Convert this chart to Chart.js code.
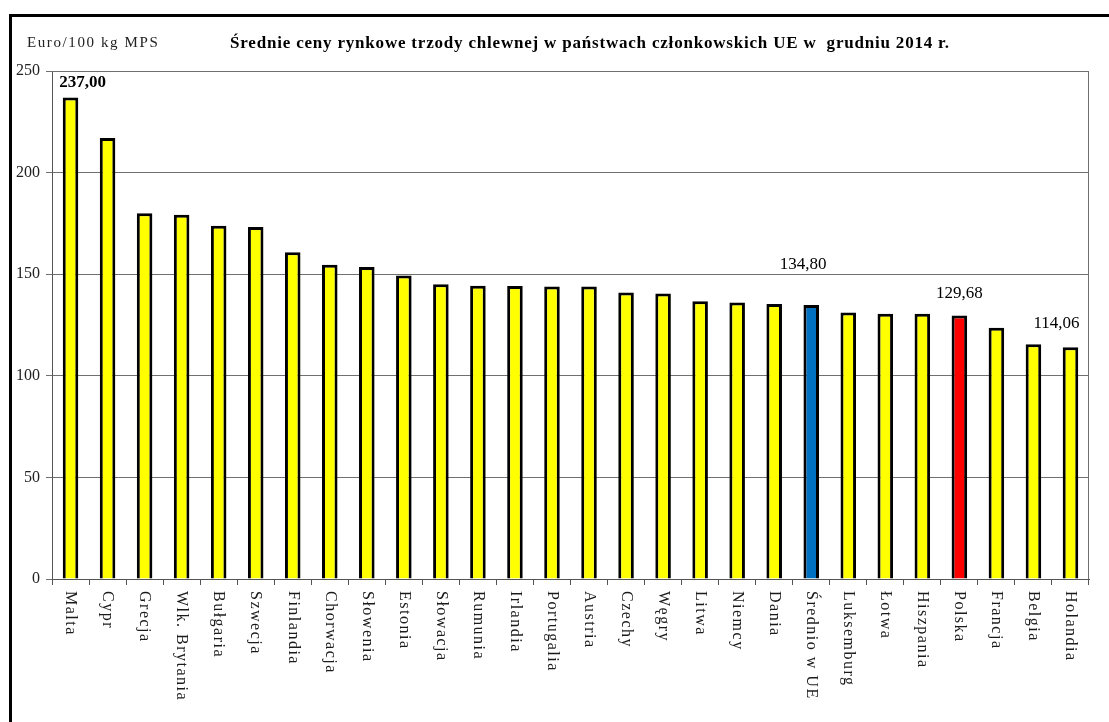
<!DOCTYPE html>
<html>
<head>
<meta charset="utf-8">
<script src="https://cdn.jsdelivr.net/npm/chart.js@4"></script>
<style>
  body { margin: 0; background: #fff; overflow: hidden; }
  #wrap { position: relative; width: 1109px; height: 722px; }
  #ramka { position: absolute; left: 9px; top: 14px; width: 1200px; height: 800px;
           border-left: 3px solid #000; border-top: 3px solid #000; pointer-events: none; }
  canvas { position: absolute; left: 0; top: 0; }
</style>
</head>
<body>
<div id="wrap">
  <canvas id="cenyChart" width="1109" height="722"></canvas>
  <div id="ramka"></div>
</div>
<script>
// Dane - ceny trzody chlewnej, grudzień 2014
var kraje = ["Malta", "Cypr", "Grecja", "Wlk. Brytania", "Bułgaria", "Szwecja", "Finlandia",
    "Chorwacja", "Słowenia", "Estonia", "Słowacja", "Rumunia", "Irlandia", "Portugalia",
    "Austria", "Czechy", "Węgry", "Litwa", "Niemcy", "Dania", "Średnio w UE", "Luksemburg",
    "Łotwa", "Hiszpania", "Polska", "Francja", "Belgia", "Holandia"];
var ceny = [237.00, 217.0, 180.0, 179.3, 173.8, 173.2, 160.8, 154.6, 153.5, 149.3, 145.0,
    144.3, 144.2, 143.9, 143.9, 141.0, 140.5, 136.7, 136.1, 135.3, 134.80, 131.2, 130.5,
    130.5, 129.68, 123.6, 115.5, 114.06];
var podpisaneKraje = ["Malta", "Średnio w UE", "Polska", "Holandia"];
var osY = [0, 50, 100, 150, 200, 250];
var tytul = "Średnie ceny rynkowe trzody chlewnej w państwach członkowskich UE w  grudniu 2014 r.";
var jednostka = "Euro/100 kg MPS";

var czcionka = '"Liberation Serif", "Times New Roman", serif';

// kolory słupków
function kolorSlupka(kraj) {
    if (kraj == "Średnio w UE") return "#0070C0";
    if (kraj == "Polska") return "#FF0000";
    return "#FFFF00";
}

// przesunięcia etykiet wartości (dx, dy nad słupkiem, pogrubienie)
var stylEtykiet = {
    "Malta": { dx: 12, dy: 15, bold: true },
    "Średnio w UE": { dx: -8, dy: 41, bold: false },
    "Polska": { dx: 0, dy: 22, bold: false },
    "Holandia": { dx: -14, dy: 24, bold: false }
};

function formatuj(v) {
    return v.toFixed(2).replace(".", ",");
}

// Plugin rysujący teksty i ramkę obszaru wykresu
var teksty = {
    id: "teksty",
    afterDraw: function (chart) {
        var ctx = chart.ctx;
        var sx = chart.scales.x;
        var sy = chart.scales.y;
        var area = chart.chartArea;
        ctx.save();

        // ramka obszaru wykresu (góra i prawa strona)
        ctx.strokeStyle = "#707070";
        ctx.lineWidth = 1;
        ctx.beginPath();
        ctx.moveTo(area.left, area.top + 0.5);
        ctx.lineTo(area.right - 0.5, area.top + 0.5);
        ctx.lineTo(area.right - 0.5, area.bottom);
        ctx.stroke();

        // nazwy krajów pionowo
        ctx.fillStyle = "#1a1a1a";
        ctx.font = "16px " + czcionka;
        ctx.letterSpacing = "1.5px";
        ctx.textAlign = "left";
        ctx.textBaseline = "middle";
        kraje.forEach(function (k, i) {
            ctx.save();
            ctx.translate(sx.getPixelForValue(i), area.bottom + 12);
            ctx.rotate(Math.PI / 2);
            ctx.fillText(k, 0, 0);
            ctx.restore();
        });

        // tytuł i jednostka
        ctx.letterSpacing = "0.8px";
        ctx.textAlign = "center";
        ctx.fillStyle = "#000";
        ctx.font = "bold 17px " + czcionka;
        ctx.fillText(tytul, 590, 44);
        ctx.letterSpacing = "1.6px";
        ctx.textAlign = "left";
        ctx.fillStyle = "#222";
        ctx.font = "15px " + czcionka;
        ctx.fillText(jednostka, 27, 43);

        // etykiety wartości
        ctx.letterSpacing = "0px";
        ctx.textAlign = "center";
        ctx.fillStyle = "#000";
        podpisaneKraje.forEach(function (k) {
            var i = kraje.indexOf(k);
            var s = stylEtykiet[k];
            ctx.font = (s.bold ? "bold " : "") + "17px " + czcionka;
            ctx.fillText(formatuj(ceny[i]), sx.getPixelForValue(i) + s.dx,
                sy.getPixelForValue(ceny[i]) - s.dy);
        });
        ctx.restore();
    }
};

function createBarChart(chartId) {
    var ctx = document.getElementById(chartId).getContext("2d");
    new Chart(ctx, {
        type: "bar",
        data: {
            labels: kraje,
            datasets: [{
                data: ceny,
                backgroundColor: kraje.map(kolorSlupka),
                borderColor: "#000",
                borderWidth: 3,
                categoryPercentage: 1,
                barPercentage: 0.42
            }]
        },
        options: {
            responsive: false,
            animation: false,
            layout: { padding: { top: 71, right: 20, left: 0, bottom: 0 } },
            plugins: {
                legend: { display: false },
                tooltip: { enabled: false },
                title: { display: false }
            },
            scales: {
                x: {
                    grid: { offset: true, drawOnChartArea: false, drawTicks: true, tickLength: 6, color: "#555" },
                    border: { color: "#555" },
                    ticks: { display: false },
                    afterFit: function (s) { s.height = 143; }
                },
                y: {
                    min: osY[0],
                    max: osY[osY.length - 1],
                    afterBuildTicks: function (s) {
                        s.ticks = osY.map(function (v) { return { value: v }; });
                    },
                    ticks: { color: "#222", padding: 6, font: { family: czcionka, size: 16 } },
                    grid: { color: "#707070", tickLength: 6 },
                    border: { color: "#555" },
                    afterFit: function (s) { s.width = 52; }
                }
            }
        },
        plugins: [teksty]
    });
}

createBarChart("cenyChart");
</script>
</body>
</html>
